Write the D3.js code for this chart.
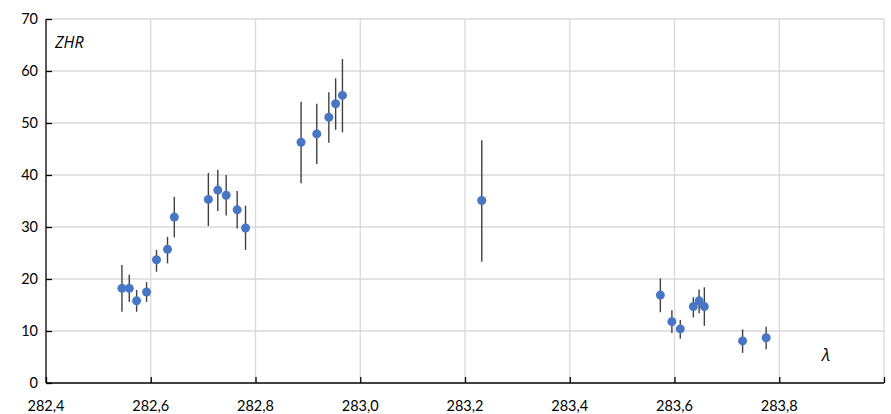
<!DOCTYPE html>
<html>
<head>
<meta charset="utf-8">
<script src="https://cdn.jsdelivr.net/npm/d3@7"></script>
<style>
html,body{margin:0;padding:0;background:#fff;}
svg{display:block;}
</style>
</head>
<body>
<svg id="chart" width="891" height="414"></svg>
<script>
// Data (solar longitude λ, ZHR, error bar low/high)
const lambda = [282.545,282.559,282.573,282.592,282.611,282.632,282.645,
  282.710,282.728,282.744,282.765,282.781,
  282.887,282.917,282.940,282.953,282.966,
  283.232,
  283.573,283.595,283.611,283.636,283.647,283.657,283.730,283.775];
const zhr = [18.2,18.2,15.8,17.5,23.7,25.7,31.9,
  35.3,37.1,36.1,33.3,29.8,
  46.3,47.9,51.1,53.7,55.3,
  35.1,
  16.9,11.8,10.4,14.7,15.8,14.7,8.1,8.7];
const errLow = [13.7,15.6,13.7,15.6,21.4,23.0,28.0,
  30.2,33.1,32.2,29.7,25.6,
  38.4,42.1,46.2,48.7,48.2,
  23.3,
  13.6,9.6,8.5,12.6,13.4,11.0,5.8,6.5];
const errHigh = [22.7,20.8,17.9,19.4,25.6,28.1,35.8,
  40.4,41.0,40.0,36.9,34.1,
  54.1,53.7,55.9,58.6,62.3,
  46.7,
  20.1,14.0,12.1,16.5,18.0,18.4,10.3,10.8];
const xTicks = [282.4,282.6,282.8,283.0,283.2,283.4,283.6,283.8,284.0];
const xTickLabels = ["282,4","282,6","282,8","283,0","283,2","283,4","283,6","283,8",""];
const yTicks = [0,10,20,30,40,50,60,70];

(function () {
const svg = d3.select("#chart");
const mL = 46, mR = 884, mT = 19, mB = 383;
const x = d3.scaleLinear().domain([282.4, 284.0]).range([mL, mR]);
const y = d3.scaleLinear().domain([0, 70]).range([mB, mT]);
const font = "Lato, 'Liberation Sans', sans-serif";
const titleFont = "'Open Sans', 'Liberation Sans', sans-serif";

// Gridlines
svg.append("g").selectAll("line").data(yTicks.filter(d => d > 0)).join("line")
  .attr("x1", mL).attr("x2", mR)
  .attr("y1", d => y(d)).attr("y2", d => y(d))
  .attr("stroke", "#d9d9d9").attr("stroke-width", 1.3);
svg.append("g").selectAll("line").data(xTicks.filter(d => d > 282.4)).join("line")
  .attr("x1", d => x(d)).attr("x2", d => x(d))
  .attr("y1", mT).attr("y2", mB)
  .attr("stroke", "#d9d9d9").attr("stroke-width", 1.3);

// Axes
const yAxis = d3.axisRight(y).tickValues(yTicks).tickSize(6).tickFormat("");
const gy = svg.append("g").attr("transform", `translate(${mL},0)`).call(yAxis);
gy.selectAll("path,line").attr("stroke", "#000").attr("stroke-width", 1.3);
gy.select("path").attr("d", `M0,${mT}V${mB}`);

const xAxis = d3.axisTop(x).tickValues(xTicks).tickSize(6).tickFormat("");
const gx = svg.append("g").attr("transform", `translate(0,${mB})`).call(xAxis);
gx.selectAll("path,line").attr("stroke", "#000").attr("stroke-width", 1.3);
gx.select("path").attr("d", `M${mL},0H${mR}`);

// Tick labels
svg.append("g").selectAll("text").data(yTicks).join("text")
  .attr("x", 38).attr("y", d => y(d) + 5)
  .attr("text-anchor", "end")
  .attr("font-family", font).attr("font-size", 14.5).attr("fill", "#000")
  .text(d => d);
svg.append("g").selectAll("text").data(xTicks).join("text")
  .attr("x", d => x(d)).attr("y", 411)
  .attr("text-anchor", "middle")
  .attr("font-family", font).attr("font-size", 14.5).attr("fill", "#000")
  .text((d, i) => xTickLabels[i]);

// Error bars
const idx = d3.range(lambda.length);
svg.append("g").selectAll("line").data(idx).join("line")
  .attr("x1", i => x(lambda[i])).attr("x2", i => x(lambda[i]))
  .attr("y1", i => y(errLow[i])).attr("y2", i => y(errHigh[i]))
  .attr("stroke", "#404040").attr("stroke-width", 1.4);

// Points
svg.append("g").selectAll("circle").data(idx).join("circle")
  .attr("cx", i => x(lambda[i])).attr("cy", i => y(zhr[i]))
  .attr("r", 4.5).attr("fill", "#4676c4");

// Axis titles
svg.append("text").attr("x", 55).attr("y", 48)
  .attr("font-family", titleFont).attr("font-size", 16).attr("font-style", "italic")
  .text("ZHR");
svg.append("text").attr("x", 822).attr("y", 361)
  .attr("font-family", titleFont).attr("font-size", 17).attr("font-style", "italic")
  .text("λ");
})();
</script>
</body>
</html>
